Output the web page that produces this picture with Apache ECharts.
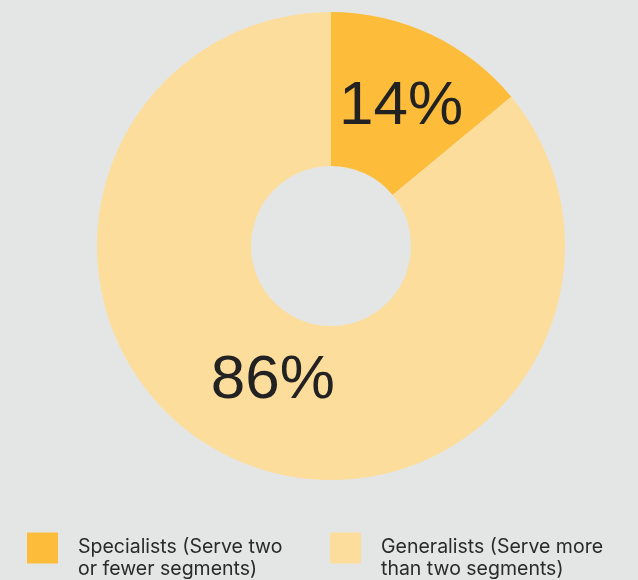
<!DOCTYPE html>
<html><head><meta charset="utf-8">
<script src="https://cdn.jsdelivr.net/npm/echarts@6/dist/echarts.min.js"></script>
<style>html,body{margin:0;padding:0;background:#e4e6e5;}#c{width:638px;height:580px;}</style>
</head><body><div id="c"></div>
<script>
const categories = ["Specialists (Serve two\nor fewer segments)", "Generalists (Serve more\nthan two segments)"];
const values = [14, 86];
const colors = ["#fdbc3a", "#fddd9b"];

const chart = echarts.init(document.getElementById('c'));
chart.setOption({
  backgroundColor: '#e4e6e5',
  animation: false,
  legend: categories.map((name, i) => ({
    data: [name],
    left: i === 0 ? 27 : 330,
    top: 516,
    padding: 0,
    itemWidth: 31,
    itemHeight: 31,
    icon: 'rect',
    formatter: n => '{s| }\n' + n,
    textStyle: {
      fontFamily: 'Inter, sans-serif',
      fontSize: 19.5,
      lineHeight: 22,
      color: '#2a2a2a',
      padding: [0, 0, 0, 15],
      rich: { s: { lineHeight: 20, fontSize: 10 } }
    }
  })),
  series: [{
    type: 'pie',
    center: [331, 246],
    radius: [80, 234],
    startAngle: 90,
    clockwise: true,
    silent: true,
    label: {
      show: true,
      position: 'inside',
      formatter: '{c}%',
      fontFamily: '"Liberation Sans", Arial, sans-serif',
      fontSize: 62,
      color: '#222222'
    },
    labelLayout: function (p) {
      return p.dataIndex === 0 ? { dx: 2, dy: 6 } : { dx: 10, dy: -10 };
    },
    labelLine: { show: false },
    data: categories.map((name, i) => ({
      name: name,
      value: values[i],
      itemStyle: { color: colors[i] }
    }))
  }]
});
</script></body></html>
